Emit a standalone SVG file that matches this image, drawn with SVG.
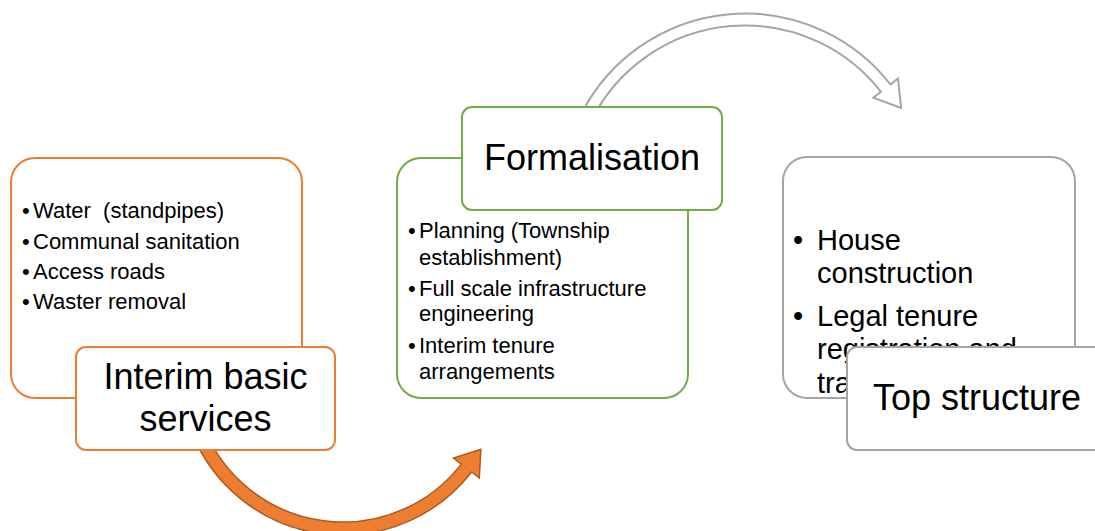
<svg xmlns="http://www.w3.org/2000/svg" width="1095" height="531" viewBox="0 0 1095 531">
  <style>
    .box { fill: #FFFFFF; stroke-width: 2; }
    .orange { stroke: #ED7D31; }
    .green { stroke: #70AD47; }
    .gray { stroke: #A5A5A5; }
    .t { font-family: "Liberation Sans", Arial, sans-serif; fill: #000000; }
    .sm { font-size: 22px; }
    .md { font-size: 29px; }
    .lg { font-size: 36px; text-anchor: middle; }
  </style>
  <rect width="1095" height="531" fill="#FFFFFF"/>
  <g id="connectors">
    <path id="arrow-orange" d="M 193.2 435.9 A 162.7 162.7 0 0 0 471.6 472.0 L 479.3 478.0 L 480.9 449.3 L 453.5 458.0 L 461.3 464.1 A 149.7 149.7 0 0 1 205.2 430.8 Z" fill="#ED7D31" stroke="#AE5A21" stroke-width="1.5" stroke-linejoin="miter"/>
    <path id="arrow-gray" d="M 582.7 111.1 A 184 184 0 0 1 890.4 84.5 L 898.0 78.5 L 901.1 108.0 L 873.3 97.8 L 880.9 91.8 A 172 172 0 0 0 593.3 116.7 Z" fill="#FFFFFF" stroke="#A5A5A5" stroke-width="2"/>
  </g>
  <g id="node-interim">
    <rect class="box orange" x="11" y="158" width="291" height="240" rx="24"/>
    <g class="t sm">
      <text x="22" y="218">•</text><text x="33" y="218" xml:space="preserve" style="white-space:pre">Water  (standpipes)</text>
      <text x="22" y="249">•</text><text x="33" y="249">Communal sanitation</text>
      <text x="22" y="279">•</text><text x="33" y="279">Access roads</text>
      <text x="22" y="309">•</text><text x="33" y="309">Waster removal</text>
    </g>
    <rect class="box orange" x="76" y="347" width="259" height="103" rx="10"/>
    <text class="t lg" x="205.5" y="389">Interim basic</text>
    <text class="t lg" x="205.5" y="431">services</text>
  </g>
  <g id="node-formalisation">
    <rect class="box green" x="397" y="158" width="291" height="240" rx="24"/>
    <g class="t sm">
      <text x="408" y="238">•</text><text x="419" y="238">Planning (Township</text>
      <text x="419" y="265">establishment)</text>
      <text x="408" y="296">•</text><text x="419" y="296">Full scale infrastructure</text>
      <text x="419" y="321">engineering</text>
      <text x="408" y="353">•</text><text x="419" y="353">Interim tenure</text>
      <text x="419" y="379">arrangements</text>
    </g>
    <rect class="box green" x="462" y="107" width="260" height="103" rx="10"/>
    <text class="t lg" x="592" y="170">Formalisation</text>
  </g>
  <g id="node-top-structure">
    <rect class="box gray" x="783" y="157" width="292" height="241" rx="24"/>
    <g class="t md">
      <text x="793" y="250">•</text><text x="817" y="250">House</text>
      <text x="817" y="283">construction</text>
      <text x="793" y="326">•</text><text x="817" y="326">Legal tenure</text>
      <text x="817" y="359">registration and</text>
      <text x="817" y="393">tra</text>
    </g>
    <rect class="box gray" x="847" y="347" width="260" height="103" rx="10"/>
    <text class="t lg" x="977" y="410">Top structure</text>
  </g>
</svg>
